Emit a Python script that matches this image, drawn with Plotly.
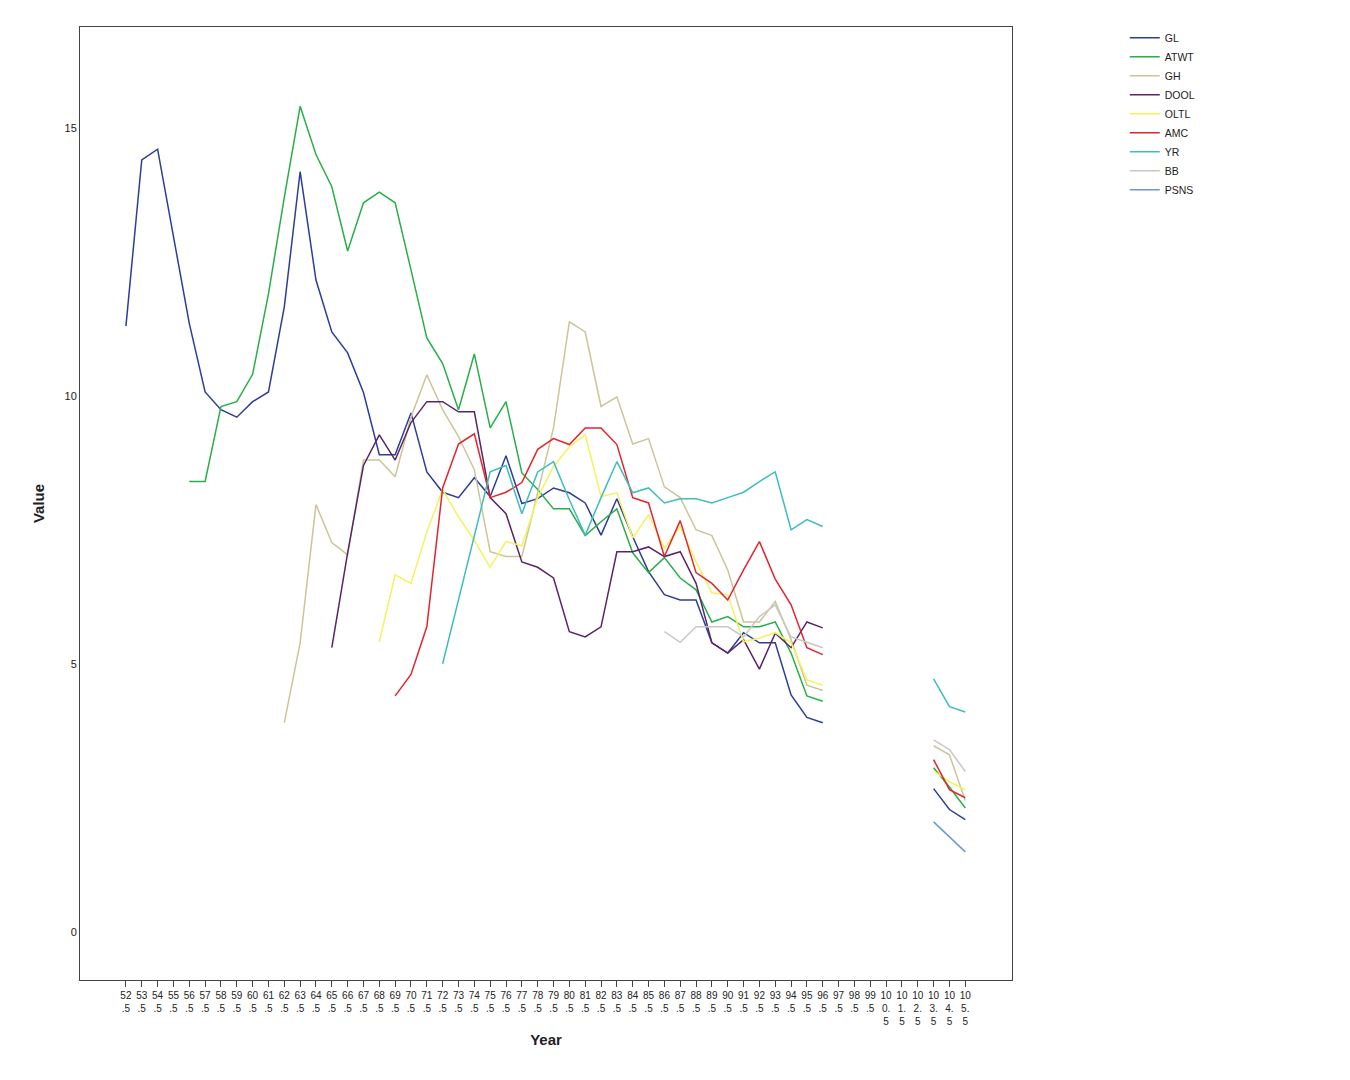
import plotly.graph_objects as go

# categories 52.5 ... 105.5
years = [f"{52.5 + i:.1f}" for i in range(54)]

def wrap(lbl):
    a, b = lbl.split(".")
    if len(a) == 2:
        return f"{a}<br>.{b}"
    return f"{a[:2]}<br>{a[2:]}.<br>{b}"

tick_labels = [wrap(y) for y in years]

N = None
GAP = [N] * 6  # 97.5 - 102.5

GL = [11.3, 14.4, 14.6, 13.0, 11.35, 10.07, 9.74, 9.6, 9.89, 10.07, 11.66, 14.18, 12.16, 11.19,
      10.8, 10.06, 8.9, 8.9, 9.68, 8.58, 8.2, 8.1, 8.47, 8.12, 8.88, 7.99, 8.08, 8.28, 8.19, 8.0,
      7.4, 8.08, 7.37, 6.72, 6.29, 6.19, 6.19, 5.39, 5.2, 5.58, 5.39, 5.39, 4.42, 4.0, 3.9] + GAP + [2.67, 2.28, 2.09]

ATWT = [N, N, N, N, 8.4, 8.4, 9.8, 9.89, 10.4, 11.9, 13.7, 15.4, 14.5, 13.9, 12.7, 13.6, 13.8,
        13.6, 12.35, 11.08, 10.6, 9.74, 10.78, 9.4, 9.89, 8.56, 8.25, 7.89, 7.89, 7.39, 7.65, 7.89,
        7.07, 6.7, 6.98, 6.6, 6.38, 5.78, 5.88, 5.69, 5.69, 5.78, 5.2, 4.4, 4.3] + GAP + [3.06, 2.7, 2.31]

GH = [N] * 10 + [3.9, 5.39, 7.97, 7.26, 7.03, 8.8, 8.8, 8.49, 9.6, 10.39, 9.74, 9.24, 8.62, 7.09,
                 7.0, 7.0, 8.19, 9.4, 11.38, 11.19, 9.8, 9.98, 9.1, 9.2, 8.3, 8.1, 7.5, 7.39, 6.75,
                 5.78, 5.78, 6.16, 5.45, 4.6, 4.5] + GAP + [3.47, 3.3, 2.45]

DOOL = [N] * 13 + [5.3, 7.07, 8.7, 9.27, 8.8, 9.5, 9.89, 9.89, 9.7, 9.7, 8.1, 7.8, 6.9, 6.8, 6.6,
                   5.6, 5.5, 5.69, 7.09, 7.09, 7.18, 7.0, 7.09, 6.5, 5.39, 5.2, 5.45, 4.9, 5.57,
                   5.3, 5.78, 5.67] + GAP + [N, N, N]

OLTL = [N] * 16 + [5.41, 6.66, 6.5, 7.46, 8.25, 7.74, 7.3, 6.8, 7.28, 7.2, 8.1, 8.68, 9.05, 9.27,
                   8.12, 8.19, 7.35, 7.78, 7.16, 7.56, 6.9, 6.32, 6.29, 5.41, 5.48, 5.58, 5.39,
                   4.7, 4.6] + GAP + [3.0, 2.8, 2.65]

AMC = [N] * 17 + [4.4, 4.8, 5.69, 8.28, 9.1, 9.29, 8.1, 8.2, 8.38, 9.0, 9.2, 9.09, 9.4, 9.4, 9.09,
                  8.1, 8.0, 7.0, 7.67, 6.7, 6.5, 6.19, 6.75, 7.28, 6.58, 6.1, 5.3, 5.17] + GAP + [3.21, 2.65, 2.5]

YR = [N] * 20 + [5.0, 6.2, 7.4, 8.58, 8.7, 7.8, 8.58, 8.77, 8.06, 7.4, 8.1, 8.77, 8.19, 8.28, 8.0,
                 8.08, 8.08, 8.0, 8.1, 8.2, 8.4, 8.58, 7.5, 7.69, 7.56] + GAP + [4.72, 4.2, 4.1]

BB = [N] * 34 + [5.6, 5.4, 5.69, 5.69, 5.69, 5.5, 5.88, 6.1, 5.5, 5.4, 5.3] + GAP + [3.58, 3.4, 2.99]

PSNS = [N] * 45 + GAP + [2.05, 1.77, 1.49]

series_names = ["GL", "ATWT", "GH", "DOOL", "OLTL", "AMC", "YR", "BB", "PSNS"]
series_values = [GL, ATWT, GH, DOOL, OLTL, AMC, YR, BB, PSNS]
series_colors = ["#2E3D97", "#2AAE48", "#CCC597", "#5B2468", "#F5F25E", "#E2252D",
                 "#3EBDBD", "#C8C8C8", "#6A9BD0"]

FONT = "Arial, Liberation Sans, sans-serif"

fig = go.Figure()
for name, vals, col in zip(series_names, series_values, series_colors):
    fig.add_trace(go.Scatter(
        x=years, y=vals, name=name, mode="lines",
        line=dict(color=col, width=1.5),
        connectgaps=False,
    ))

fig.update_layout(
    width=1350, height=1080,
    margin=dict(l=72, r=346, t=19, b=108),
    paper_bgcolor="white", plot_bgcolor="white",
    font=dict(family=FONT, size=12, color="#222"),
    showlegend=True,
    legend=dict(
        x=1.121, y=1.004, xanchor="left", yanchor="top",
        font=dict(family=FONT, size=10.5, color="#222"),
        tracegroupgap=0, itemwidth=30,
        bgcolor="rgba(0,0,0,0)",
    ),
    xaxis=dict(
        type="category",
        categoryorder="array", categoryarray=years,
        tickmode="array", tickvals=years, ticktext=tick_labels,
        tickangle=0,
        range=[-2.9, 55.95],
        showgrid=False, zeroline=False,
        showline=True, linecolor="#444", linewidth=1, mirror=True,
        ticks="outside", ticklen=6, tickcolor="#444",
        tickfont=dict(family=FONT, size=10, color="#222"),
        title=dict(text="<b>Year</b>", font=dict(family=FONT, size=15, color="#222"), standoff=8),
    ),
    yaxis=dict(
        range=[-0.9, 16.88],
        tickmode="array", tickvals=[0, 5, 10, 15],
        showgrid=False, zeroline=False,
        showline=True, linecolor="#444", linewidth=1, mirror=True,
        ticks="",
        tickfont=dict(family=FONT, size=11, color="#222"),
        title=dict(text="<b>Value</b>", font=dict(family=FONT, size=15, color="#222"), standoff=16),
    ),
)

fig.write_html("out.html")
